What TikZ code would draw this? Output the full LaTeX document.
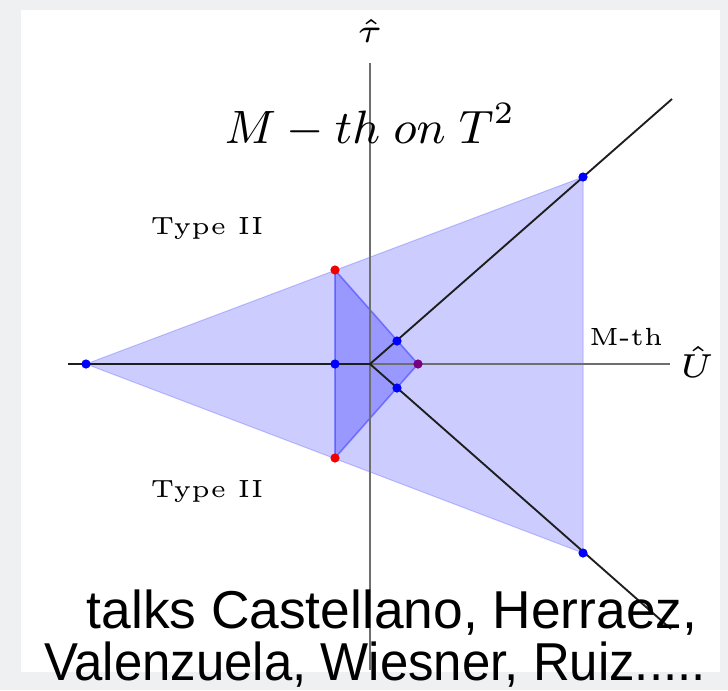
\documentclass[tikz,border=0pt]{standalone}
\usepackage{graphicx}
\usepackage{fontspec}
\newfontfamily\talkfont{Liberation Sans}

\tikzset{every picture/.style={line width=0.75pt}}
\tikzset{
  axisline/.style={draw={rgb, 255:red, 110; green, 110; blue, 110 }, line width=1.1},
  rayline/.style={draw={rgb, 255:red, 30; green, 30; blue, 30 }, line width=1.4},
  bluedot/.style={fill={rgb, 255:red, 0; green, 0; blue, 255 }},
  reddot/.style={fill={rgb, 255:red, 240; green, 0; blue, 0 }},
  mixdot/.style={fill={rgb, 255:red, 120; green, 0; blue, 128 }},
  smalllabel/.style={inner sep=0pt, font=\fontsize{5}{6}\selectfont},
  titlelabel/.style={inner sep=0pt, font=\fontsize{9}{10}\selectfont},
  talktext/.style={anchor=base, inner sep=0pt, font=\talkfont\fontsize{40}{46}\selectfont},
}

\begin{document}
\begin{tikzpicture}[x=0.75pt,y=0.75pt,yscale=-1,xscale=1]
%background and page
\fill [fill={rgb, 255:red, 239; green, 240; blue, 242 }] (0,0) rectangle (728,690) ;
\fill [white] (21,10) rectangle (720,672) ;
\useasboundingbox (0,0) rectangle (728,690) ;

%points
\coordinate (O) at (370,364) ;
\coordinate (ax-l) at (68,364) ;
\coordinate (ax-r) at (670,364) ;
\coordinate (ax-t) at (370,63) ;
\coordinate (ax-b) at (370,670) ;
\coordinate (ray-up) at (672,99) ;
\coordinate (ray-dn) at (671,629) ;
\coordinate (tip) at (86,364) ;
\coordinate (big-up) at (583,177) ;
\coordinate (big-dn) at (583,553) ;
\coordinate (red-up) at (335,270) ;
\coordinate (red-dn) at (335,458) ;
\coordinate (mid) at (335,364) ;
\coordinate (sm-up) at (397,341) ;
\coordinate (sm-dn) at (397,388) ;
\coordinate (mth) at (418,364) ;

%Shape: big triangle
\draw [draw={rgb, 255:red, 0; green, 0; blue, 255 }, draw opacity=0.2, fill={rgb, 255:red, 0; green, 0; blue, 255 }, fill opacity=0.2] (tip) -- (big-up) -- (big-dn) -- cycle ;
%Shape: small triangle
\draw [draw={rgb, 255:red, 0; green, 0; blue, 255 }, draw opacity=0.35, line width=1.2, fill={rgb, 255:red, 0; green, 0; blue, 255 }, fill opacity=0.25] (red-up) -- (mth) -- (red-dn) -- cycle ;

%Straight Lines: axes
\draw [axisline] (ax-l) -- (ax-r) ;
\draw [axisline] (ax-t) -- (ax-b) ;
%Straight Lines: rays
\draw [rayline] (ax-l) -- (O) ;
\draw [rayline] (O) -- (ray-up) ;
\draw [rayline] (O) -- (ray-dn) ;

%Shape: dots
\foreach \p in {tip,big-up,big-dn,mid,sm-up,sm-dn} {
  \fill [bluedot] (\p) circle (4.6) ;
}
\fill [reddot] (red-up) circle (4.6) ;
\fill [reddot] (red-dn) circle (4.6) ;
\fill [mixdot] (mth) circle (4.6) ;

% Text Node
\node (tau) at (370,31) [smalllabel] {\scalebox{5}{$\hat{\tau}$}};
% Text Node
\node (uhat) at (697,362) [smalllabel] {\scalebox{5}{$\hat{U}$}};
% Text Node
\node (title) at (370,126) [titlelabel] {\scalebox{3.9}{$M - th\; on\; T^{2}$}};
% Text Node
\node (t2a) at (207,229) [smalllabel] {\scalebox{3.73}{Type II}};
% Text Node
\node (t2b) at (207,492) [smalllabel] {\scalebox{3.73}{Type II}};
% Text Node
\node (mlabel) at (626,337) [smalllabel] {\scalebox{3.73}{M-th}};
% Text Node
\node (talks1) at (392,628) [talktext] {talks Castellano, Herraez,};
% Text Node
\node (talks2) at (375,680) [talktext] {\scalebox{0.955}[1]{Valenzuela, Wiesner, Ruiz.....}};

\end{tikzpicture}
\end{document}
